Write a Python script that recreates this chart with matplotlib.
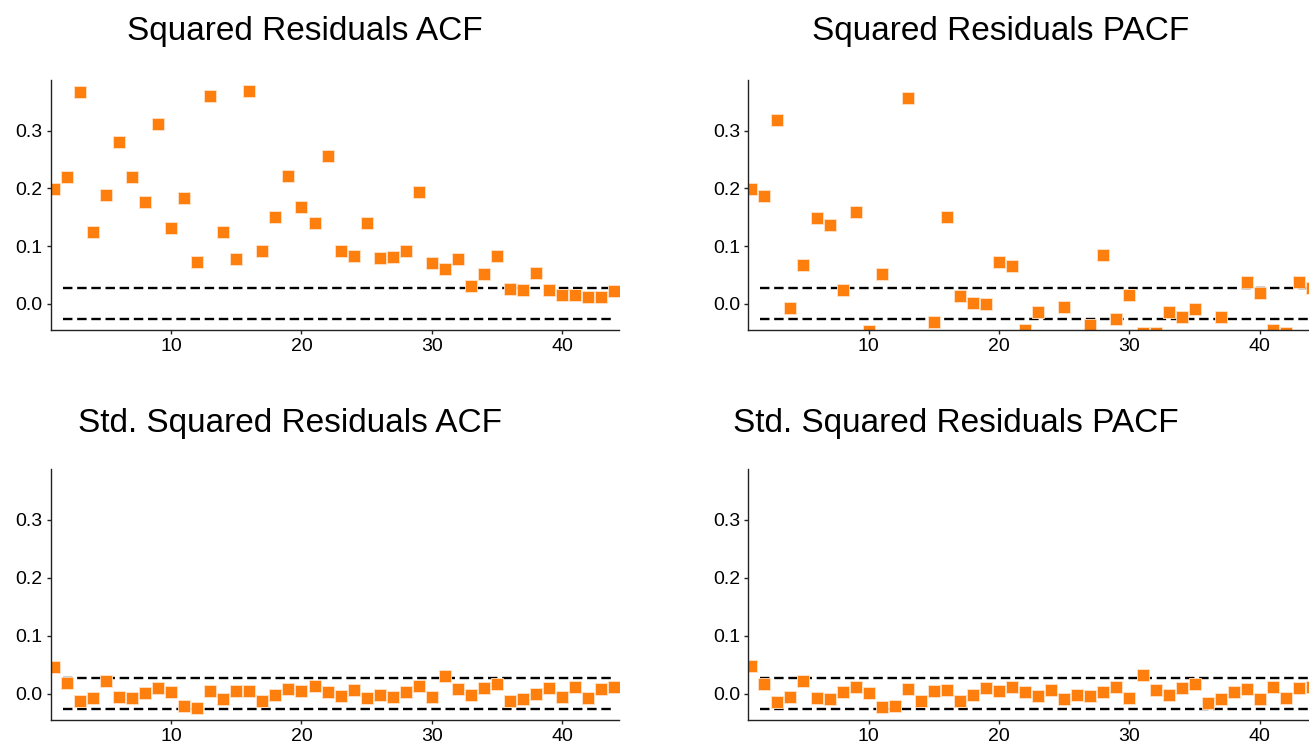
import numpy as np
import matplotlib
matplotlib.use("Agg")
import matplotlib.pyplot as plt

plt.rcParams['font.family'] = ['Liberation Sans', 'DejaVu Sans']

lags = np.arange(1, 45)

sq_acf = [0.199, 0.219, 0.367, 0.124, 0.188, 0.281, 0.220, 0.177, 0.312, 0.131,
          0.183, 0.072, 0.361, 0.125, 0.078, 0.369, 0.092, 0.151, 0.221, 0.168,
          0.140, 0.257, 0.091, 0.082, 0.140, 0.080, 0.081, 0.092, 0.194, 0.070,
          0.061, 0.077, 0.031, 0.051, 0.083, 0.026, 0.024, 0.053, 0.024, 0.015,
          0.015, 0.011, 0.011, 0.022]

sq_pacf = [0.199, 0.187, 0.318, -0.008, 0.068, 0.148, 0.136, 0.023, 0.159, -0.048,
           0.051, -0.070, 0.356, -0.065, -0.031, 0.151, 0.013, 0.001, -0.001, 0.072,
           0.065, -0.046, -0.014, -0.065, -0.006, -0.068, -0.037, 0.084, -0.027, 0.015,
           -0.050, -0.050, -0.014, -0.023, -0.009, -0.066, -0.023, -0.070, 0.037, 0.019,
           -0.045, -0.050, 0.037, 0.028]

std_acf = [0.046, 0.019, -0.013, -0.007, 0.021, -0.006, -0.008, 0.001, 0.010, 0.002,
           -0.022, -0.025, 0.005, -0.010, 0.004, 0.005, -0.012, -0.002, 0.008, 0.005,
           0.013, 0.002, -0.004, 0.006, -0.007, -0.002, -0.006, 0.002, 0.013, -0.006,
           0.031, 0.008, -0.002, 0.010, 0.017, -0.013, -0.009, 0.000, 0.009, -0.006,
           0.012, -0.008, 0.008, 0.012]

std_pacf = [0.047, 0.017, -0.015, -0.006, 0.022, -0.007, -0.009, 0.002, 0.012, 0.001,
            -0.023, -0.022, 0.008, -0.012, 0.004, 0.007, -0.012, -0.002, 0.009, 0.005,
            0.012, 0.002, -0.005, 0.006, -0.009, -0.002, -0.005, 0.002, 0.012, -0.007,
            0.032, 0.007, -0.003, 0.009, 0.017, -0.016, -0.009, 0.002, 0.008, -0.009,
            0.012, -0.007, 0.010, 0.011]

conf = 0.0267
titles = ["Squared Residuals ACF", "Squared Residuals PACF",
          "Std. Squared Residuals ACF", "Std. Squared Residuals PACF"]
series = [sq_acf, sq_pacf, std_acf, std_pacf]

W, H = 1309, 742
fig = plt.figure(figsize=(W / 100, H / 100), dpi=100)

# axes boxes in pixels: left, top, right, bottom
boxes = [(50.7, 80, 619, 330), (748.3, 80, 1316.6, 330),
         (50.7, 469, 619, 720), (748.3, 469, 1316.6, 720)]
title_pos = [(305, 40), (1001, 40), (290, 432), (956, 432)]

for box, tpos, title, vals in zip(boxes, title_pos, titles, series):
    l, t, r, b = box
    ax = fig.add_axes([l / W, 1 - b / H, (r - l) / W, (b - t) / H])
    # confidence band, dashed
    ax.plot([lags[0] + 0.7, lags[-1]], [conf, conf], color='black', lw=1.7,
            linestyle=(0, (4, 2)))
    ax.plot([lags[0] + 0.7, lags[-1]], [-conf, -conf], color='black', lw=1.7,
            linestyle=(0, (4, 2)))
    ax.plot(lags, vals, 's', color='#ff7f0e', markersize=8.2,
            markeredgecolor='#ffe3c8', markeredgewidth=0.6)
    ax.set_xlim(0.77, 44.35)
    ax.set_ylim(-0.0456, 0.388)
    ax.set_xticks([10, 20, 30, 40])
    ax.set_yticks([0.0, 0.1, 0.2, 0.3])
    ax.set_yticklabels(['0.0', '0.1', '0.2', '0.3'])
    for s in ['top', 'right']:
        ax.spines[s].set_visible(False)
    for s in ['left', 'bottom']:
        ax.spines[s].set_linewidth(1.0)
        ax.spines[s].set_color('#222222')
    ax.tick_params(labelsize=14, length=3, width=1, pad=3, colors='#222222',
                   labelcolor='black')
    fig.text(tpos[0] / W, 1 - tpos[1] / H, title, ha='center', va='baseline',
             fontsize=24)

fig.savefig("out.png", dpi=100)
